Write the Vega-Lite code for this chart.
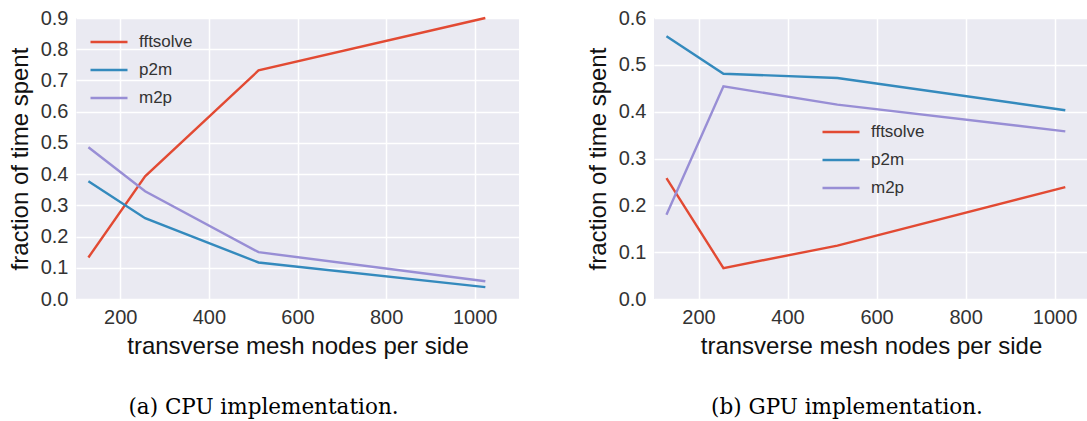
{
  "$schema": "https://vega.github.io/schema/vega-lite/v6.json",
  "padding": {"left": 8, "top": 8, "right": 0, "bottom": 0},
  "background": "white",
  "datasets": {
    "cpu": [
      {"n": 128, "series": "fftsolve", "frac": 0.133},
      {"n": 256, "series": "fftsolve", "frac": 0.393},
      {"n": 512, "series": "fftsolve", "frac": 0.732},
      {"n": 1024, "series": "fftsolve", "frac": 0.9},
      {"n": 128, "series": "p2m", "frac": 0.377},
      {"n": 256, "series": "p2m", "frac": 0.259},
      {"n": 512, "series": "p2m", "frac": 0.117},
      {"n": 1024, "series": "p2m", "frac": 0.038},
      {"n": 128, "series": "m2p", "frac": 0.486},
      {"n": 256, "series": "m2p", "frac": 0.345},
      {"n": 512, "series": "m2p", "frac": 0.15},
      {"n": 1024, "series": "m2p", "frac": 0.057}
    ],
    "gpu": [
      {"n": 128, "series": "fftsolve", "frac": 0.258},
      {"n": 256, "series": "fftsolve", "frac": 0.066},
      {"n": 512, "series": "fftsolve", "frac": 0.114},
      {"n": 1024, "series": "fftsolve", "frac": 0.239},
      {"n": 128, "series": "p2m", "frac": 0.561},
      {"n": 256, "series": "p2m", "frac": 0.481},
      {"n": 512, "series": "p2m", "frac": 0.472},
      {"n": 1024, "series": "p2m", "frac": 0.403},
      {"n": 128, "series": "m2p", "frac": 0.18},
      {"n": 256, "series": "m2p", "frac": 0.454},
      {"n": 512, "series": "m2p", "frac": 0.415},
      {"n": 1024, "series": "m2p", "frac": 0.358}
    ]
  },
  "spacing": 135,
  "bounds": "flush",
  "hconcat": [
    {
      "width": 443,
      "height": 281,
      "data": {"name": "cpu"},
      "title": {"text": "(a) CPU implementation.", "dx": -34},
      "mark": {"type": "line", "strokeWidth": 2.4},
      "encoding": {
        "x": {"field": "n", "type": "quantitative", "scale": {"domain": [100, 1100], "nice": false, "zero": false}, "axis": {"values": [200, 400, 600, 800, 1000], "format": "d", "title": "transverse mesh nodes per side"}},
        "y": {"field": "frac", "type": "quantitative", "scale": {"domain": [0, 0.9], "nice": false}, "axis": {"values": [0, 0.1, 0.2, 0.3, 0.4, 0.5, 0.6, 0.7, 0.8, 0.9], "format": ".1f", "title": "fraction of time spent"}},
        "color": {"field": "series", "type": "nominal", "scale": {"domain": ["fftsolve", "p2m", "m2p"], "range": ["#E24A33", "#348ABD", "#988ED5"]}, "legend": {"orient": "none", "legendX": 13, "legendY": 4}}
      }
    },
    {
      "width": 434,
      "height": 281,
      "data": {"name": "gpu"},
      "title": {"text": "(b) GPU implementation.", "dx": -24},
      "mark": {"type": "line", "strokeWidth": 2.4},
      "encoding": {
        "x": {"field": "n", "type": "quantitative", "scale": {"domain": [100, 1075], "nice": false, "zero": false}, "axis": {"values": [200, 400, 600, 800, 1000], "format": "d", "title": "transverse mesh nodes per side"}},
        "y": {"field": "frac", "type": "quantitative", "scale": {"domain": [0, 0.6], "nice": false}, "axis": {"values": [0, 0.1, 0.2, 0.3, 0.4, 0.5, 0.6], "format": ".1f", "title": "fraction of time spent"}},
        "color": {"field": "series", "type": "nominal", "scale": {"domain": ["fftsolve", "p2m", "m2p"], "range": ["#E24A33", "#348ABD", "#988ED5"]}, "legend": {"orient": "none", "legendX": 167, "legendY": 94}}
      }
    }
  ],
  "resolve": {"legend": {"color": "independent"}},
  "config": {
    "view": {"fill": "#EAEAF2", "stroke": null},
    "axis": {
      "grid": true, "gridColor": "white", "gridWidth": 1.5,
      "domain": false, "ticks": false, "tickSize": 0,
      "labelFont": "Liberation Sans", "labelFontSize": 20, "labelColor": "#333333",
      "titleFont": "Liberation Sans", "titleFontSize": 24, "titleFontWeight": "normal", "titleColor": "#111111"
    },
    "axisX": {"labelPadding": 8, "titlePadding": 7},
    "axisY": {"labelPadding": 8, "titlePadding": 8},
    "legend": {
      "title": null, "symbolType": "stroke", "symbolSize": 1369, "symbolStrokeWidth": 2.5,
      "labelFont": "Liberation Sans", "labelFontSize": 17, "labelColor": "#333333",
      "labelOffset": 10, "rowPadding": -4, "padding": 0
    },
    "title": {
      "orient": "bottom", "anchor": "middle", "font": "DejaVu Serif", "fontSize": 21.5,
      "fontWeight": "normal", "color": "#000000", "offset": 39
    }
  }
}
